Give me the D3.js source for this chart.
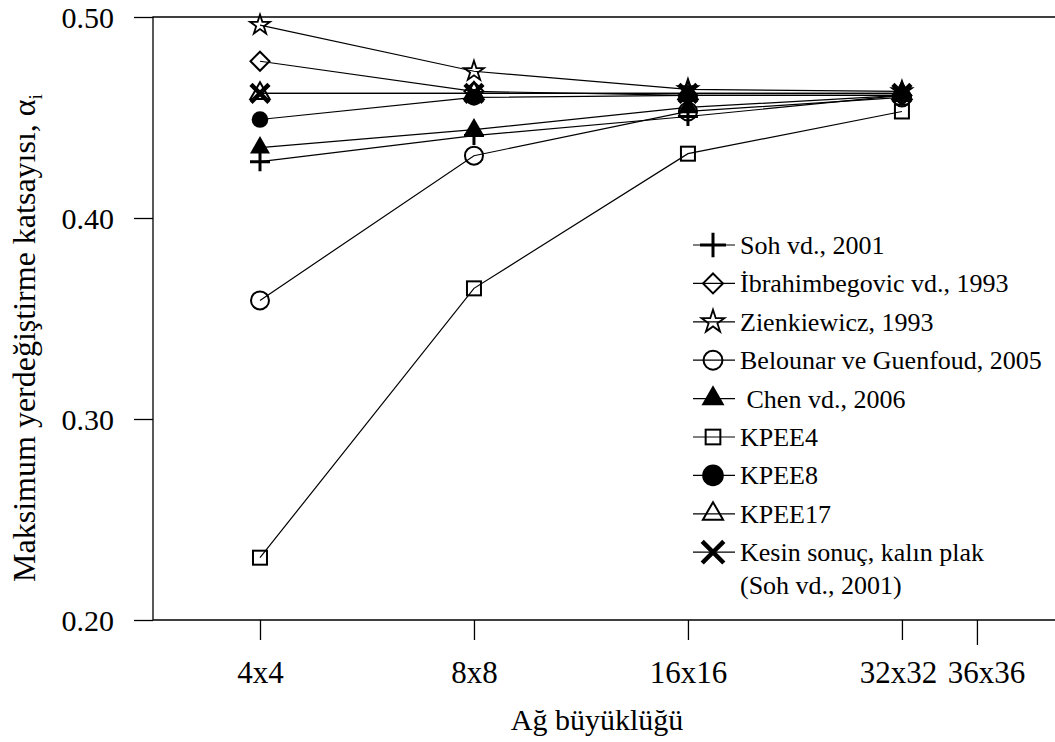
<!DOCTYPE html>
<html>
<head>
<meta charset="utf-8">
<script src="https://cdn.jsdelivr.net/npm/d3@7"></script>
<style>
  html, body { margin: 0; padding: 0; background: #fff; }
  svg { display: block; }
  text { font-family: "Liberation Serif", "Times New Roman", serif; fill: #000; }
</style>
</head>
<body>
<svg id="chart" width="1055" height="742"></svg>
<script>
// Mesh sizes (x) and the maximum displacement coefficient of each method (y)
const categories = ["4x4", "8x8", "16x16", "32x32"];
const meshSize = [4, 8, 16, 32];

const sohVd2001            = [0.428, 0.441, 0.4505, 0.461];
const ibrahimbegovic1993   = [0.478, 0.463, 0.461, 0.461];
const zienkiewicz1993      = [0.496, 0.473, 0.464, 0.463];
const belounarGuenfoud2005 = [0.359, 0.431, 0.453, 0.460];
const chenVd2006           = [0.435, 0.444, 0.455, 0.461];
const kpee4                = [0.231, 0.365, 0.432, 0.453];
const kpee8                = [0.449, 0.460, 0.461, 0.461];
const kpee17               = [0.462, 0.462, 0.462, 0.462];
const kesinSonuc           = [0.462, 0.462, 0.462, 0.462];

const seriesNames = [
  "Soh vd., 2001",
  "İbrahimbegovic vd., 1993",
  "Zienkiewicz, 1993",
  "Belounar ve Guenfoud, 2005",
  " Chen vd., 2006",
  "KPEE4",
  "KPEE8",
  "KPEE17",
  "Kesin sonuç, kalın plak\n(Soh vd., 2001)"
];

// x tick labels; 36x36 is only an axis mark
const xTickLabels = ["4x4", "8x8", "16x16", "32x32", "36x36"];
const xTickMesh = [4, 8, 16, 32, 40.8];
const yTicks = [0.20, 0.30, 0.40, 0.50];

const xTitle = "Ağ büyüklüğü";
const yTitle = "Maksimum yerdeğiştirme katsayısı, α";
const yTitleSub = "i";

// ---------------------------------------------------------------------------
const svg = d3.select("#chart");
const plotLeft = 153, plotRight = 1056, plotTop = 17, plotBottom = 620;

const x = d3.scaleLinear().domain([1.5, 5.72]).range([plotLeft, plotRight]);
const y = d3.scaleLinear().domain([0.20, 0.50]).range([plotBottom, plotTop]);
const xp = n => x(Math.log2(n));

const series = [
  { values: sohVd2001,            marker: "plus" },
  { values: ibrahimbegovic1993,   marker: "diamond" },
  { values: zienkiewicz1993,      marker: "star" },
  { values: belounarGuenfoud2005, marker: "circleOpen" },
  { values: chenVd2006,           marker: "triangleFilled" },
  { values: kpee4,                marker: "square" },
  { values: kpee8,                marker: "circleFilled" },
  { values: kpee17,               marker: "triangleOpen" },
  { values: kesinSonuc,           marker: "cross" }
].map((s, i) => ({ ...s, name: seriesNames[i],
  points: s.values.map((v, j) => ({ mesh: meshSize[j], value: v, cat: categories[j] })) }));

// Marker painter: k scales the glyph (legend glyphs are a bit larger)
function drawMarker(g, type, k) {
  const sym = (t, size) => d3.symbol().type(t).size(size)();
  switch (type) {
    case "plus":
      g.append("path").attr("d", `M${-10*k},0H${10*k}M0,${-9.5*k}V${9.5*k}`)
        .attr("fill", "none").attr("stroke", "#000").attr("stroke-width", 3);
      break;
    case "diamond": {
      const r = 9.5 * k;
      g.append("path").attr("d", `M0,${-r}L${r},0L0,${r}L${-r},0Z`)
        .attr("fill", "none").attr("stroke", "#000").attr("stroke-width", 2);
      break;
    }
    case "star": {
      const r = 10.5 * k;
      g.append("path").attr("d", sym(d3.symbolStar, r * r / 0.8908130915292852))
        .attr("fill", "none").attr("stroke", "#000").attr("stroke-width", 1.8);
      break;
    }
    case "circleOpen":
      g.append("circle").attr("r", 9 * k)
        .attr("fill", "none").attr("stroke", "#000").attr("stroke-width", 2);
      break;
    case "triangleFilled":
      g.append("path").attr("d", sym(d3.symbolTriangle, 173 * k * k)).attr("fill", "#000");
      break;
    case "square": {
      const s = 14 * k;
      g.append("rect").attr("x", -s / 2).attr("y", -s / 2).attr("width", s).attr("height", s)
        .attr("fill", "none").attr("stroke", "#000").attr("stroke-width", 2);
      break;
    }
    case "circleFilled":
      g.append("circle").attr("r", 8.3 * k).attr("fill", "#000");
      break;
    case "triangleOpen":
      g.append("path").attr("d", sym(d3.symbolTriangle, 160 * k * k))
        .attr("fill", "none").attr("stroke", "#000").attr("stroke-width", 2);
      break;
    case "cross": {
      const r = 9 * k;
      g.append("path").attr("d", `M${-r},${-r}L${r},${r}M${r},${-r}L${-r},${r}`)
        .attr("fill", "none").attr("stroke", "#000").attr("stroke-width", 4.5);
      break;
    }
  }
}

// Frame (open on the right side, beyond the canvas)
svg.append("path")
  .attr("d", `M${plotRight},${plotTop}H${plotLeft}V${plotBottom}H${plotRight}`)
  .attr("fill", "none").attr("stroke", "#000").attr("stroke-width", 1.3);

// y axis
const yAxis = svg.append("g").attr("transform", `translate(${plotLeft},0)`)
  .call(d3.axisLeft(y).tickValues(yTicks).tickFormat(d3.format(".2f")).tickSize(19).tickPadding(20));
yAxis.select(".domain").remove();
yAxis.selectAll(".tick line").attr("stroke", "#000").attr("stroke-width", 1.3);
yAxis.selectAll(".tick text").attr("font-size", 30).attr("font-family", null).attr("dy", "0.34em");

// x axis
const xAxis = svg.append("g").attr("transform", `translate(0,${plotBottom})`)
  .call(d3.axisBottom(x).tickValues(xTickMesh.map(Math.log2))
    .tickFormat((d, i) => xTickLabels[i]).tickSize(20));
xAxis.select(".domain").remove();
xAxis.selectAll(".tick line").attr("stroke", "#000").attr("stroke-width", 1.3)
  .filter((d, i) => i === xTickLabels.length - 1).attr("y2", 25);
xAxis.selectAll(".tick text").attr("font-size", 31).attr("font-family", null)
  .attr("y", 63).attr("dy", 0)
  .attr("dx", (d, i) => i === 3 ? -4 : (i === 4 ? 9 : 0));

// Axis titles
svg.append("text").attr("x", 597).attr("y", 730)
  .attr("text-anchor", "middle").attr("font-size", 30).text(xTitle);

const yt = svg.append("text")
  .attr("transform", `translate(35,338) rotate(-90)`)
  .attr("text-anchor", "middle").attr("font-size", 32);
yt.append("tspan").text(yTitle);
yt.append("tspan").attr("font-size", 19).attr("dy", 7).text(yTitleSub);

// Connecting lines
const line = d3.line().x(d => xp(d.mesh)).y(d => y(d.value));
svg.append("g").selectAll("path").data(series).join("path")
  .attr("d", d => line(d.points))
  .attr("fill", "none").attr("stroke", "#000").attr("stroke-width", 1.2);

// Markers
series.forEach(s => {
  s.points.forEach(p => {
    const g = svg.append("g").attr("transform", `translate(${xp(p.mesh)},${y(p.value)})`);
    drawMarker(g, s.marker, 1);
  });
});

// Legend
const legendTop = 245, rowStep = 38.4;
const legend = svg.append("g");
series.forEach((s, i) => {
  const cy = legendTop + i * rowStep;
  const row = legend.append("g").attr("transform", `translate(0,${cy})`);
  row.append("line").attr("x1", 693).attr("x2", 735).attr("y1", 0).attr("y2", 0)
    .attr("stroke", "#000").attr("stroke-width", 1.2);
  const mg = row.append("g").attr("transform", "translate(713,0)");
  const k = { plus: 1.3, star: 1.15, circleFilled: 1.3, triangleFilled: 1.15, cross: 1.2 }[s.marker] || 1.05;
  drawMarker(mg, s.marker, k);
  const lines = s.name.split("\n");
  const t = row.append("text").attr("x", 740).attr("y", 9).attr("font-size", 26)
    .style("white-space", "pre");
  lines.forEach((ln, j) => {
    t.append("tspan").attr("x", 740).attr("dy", j === 0 ? 0 : 33).text(ln);
  });
});
</script>
</body>
</html>
